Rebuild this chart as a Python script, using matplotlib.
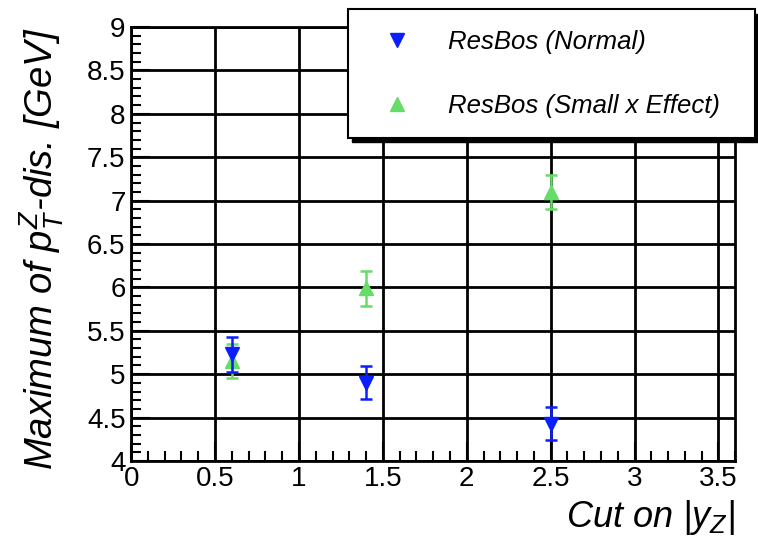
import matplotlib.pyplot as plt
from matplotlib.patches import Rectangle
from matplotlib.ticker import MultipleLocator

# |y_Z| cut values and fitted peak positions with errors
cuts = [0.6, 1.4, 2.5]
normal_peak = [5.23, 4.90, 4.43]
normal_err = [0.20, 0.19, 0.19]
smallx_peak = [5.15, 5.99, 7.10]
smallx_err = [0.20, 0.20, 0.20]

plt.rcParams['font.family'] = ['Liberation Sans', 'DejaVu Sans']
plt.rcParams['mathtext.fontset'] = 'custom'
plt.rcParams['mathtext.it'] = 'Liberation Sans:italic'
plt.rcParams['mathtext.rm'] = 'Liberation Sans:italic'

fig = plt.figure(figsize=(7.58, 5.41), dpi=100)
ax = fig.add_axes([0.173, 0.148, 0.797, 0.802])

eb1 = ax.errorbar(cuts, normal_peak, yerr=normal_err, fmt='v', color='#0a1eff',
                  markersize=10, elinewidth=1.8, capsize=4, capthick=1.8,
                  zorder=4)
eb2 = ax.errorbar(cuts, smallx_peak, yerr=smallx_err, fmt='^', color='#66dd66',
                  markersize=10, elinewidth=1.8, capsize=4, capthick=1.8,
                  zorder=3)

ax.set_xlim(0, 3.6)
ax.set_ylim(4, 9)
ax.xaxis.set_minor_locator(MultipleLocator(0.1))
ax.yaxis.set_minor_locator(MultipleLocator(0.1))
ax.set_xticks([0, 0.5, 1, 1.5, 2, 2.5, 3, 3.5])
ax.set_xticklabels(['0', '0.5', '1', '1.5', '2', '2.5', '3', '3.5'])
ax.set_yticks([4, 4.5, 5, 5.5, 6, 6.5, 7, 7.5, 8, 8.5, 9])
ax.set_yticklabels(['4', '4.5', '5', '5.5', '6', '6.5', '7', '7.5', '8', '8.5', '9'])
ax.tick_params(which='both', direction='in', labelsize=20, width=1.5)
ax.tick_params(which='major', length=14, pad=4)
ax.tick_params(which='minor', length=7)
ax.grid(True, which='major', color='black', linewidth=2)
ax.set_axisbelow(True)
for s in ax.spines.values():
    s.set_linewidth(2)

ax.set_xlabel(r'Cut on $|y_{Z}|$', fontsize=26, style='italic', loc='right',
              labelpad=4)
ax.set_ylabel(r'Maximum of $p_{T}^{Z}$-dis. [GeV]', fontsize=27.5,
              style='italic', loc='top', labelpad=15)

# legend box with a dark drop shadow
leg = fig.legend([eb1[0], eb2[0]], ['ResBos (Normal)', 'ResBos (Small x Effect)'],
                 loc='upper left', bbox_to_anchor=(0.459, 0.983, 0.537, 0.0),
                 mode='expand', frameon=True, fancybox=False, framealpha=1,
                 prop={'style': 'italic', 'size': 18.5}, borderpad=0.8,
                 labelspacing=1.55, handletextpad=0.9, borderaxespad=0,
                 handlelength=2.2)
leg.get_frame().set_edgecolor('black')
leg.get_frame().set_linewidth(1.5)
leg.set_zorder(10)
fig.canvas.draw()
bb = leg.get_window_extent().transformed(fig.transFigure.inverted())
fig.patches.append(Rectangle((bb.x0 + 0.006, bb.y0 - 0.008), bb.width, bb.height,
                             transform=fig.transFigure, color='black', zorder=9))

fig.savefig('out.png', dpi=100)
